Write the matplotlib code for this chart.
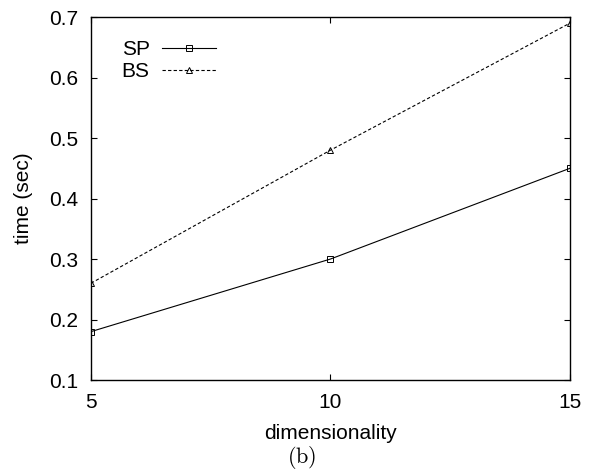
import matplotlib
matplotlib.use("Agg")
import matplotlib.pyplot as plt

dims = [5, 10, 15]
sp_time = [0.18, 0.30, 0.45]
bs_time = [0.26, 0.48, 0.69]

plt.rcParams['font.family'] = ['Liberation Sans', 'DejaVu Sans']
plt.rcParams['mathtext.fontset'] = 'cm'

fig = plt.figure(figsize=(5.92, 4.75), dpi=100)
ax = fig.add_axes([0.1537, 0.2, 0.809, 0.764])

ax.plot(dims, sp_time, color='black', lw=0.8, marker='s', ms=3.8,
        mfc='none', mew=0.7, label='SP')
ax.plot(dims, bs_time, color='black', lw=0.8, ls=(0, (3, 2)), marker='^', ms=4,
        mfc='none', mew=0.7, label='BS')

ax.set_xlim(5, 15)
ax.set_ylim(0.1, 0.7)
ax.set_xticks([5, 10, 15])
ax.set_yticks([0.1, 0.2, 0.3, 0.4, 0.5, 0.6, 0.7])
ax.tick_params(direction='in', top=True, right=True, length=4.3, width=0.8,
               labelsize=15, pad=9)
for s in ax.spines.values():
    s.set_linewidth(1.0)

ax.set_xlabel('dimensionality', fontsize=15, labelpad=9)
ax.set_ylabel('time (sec)', fontsize=15, labelpad=12)

leg = ax.legend(loc='upper left', frameon=False, fontsize=15, markerfirst=False,
                handlelength=2.6, handletextpad=0.6, labelspacing=0.15,
                borderpad=0, borderaxespad=0, bbox_to_anchor=(0.064, 0.936))

fig.text(0.51, 0.008, r'$\mathrm{(b)}$', ha='center', va='bottom', fontsize=16)

fig.savefig('out.png', dpi=100)
